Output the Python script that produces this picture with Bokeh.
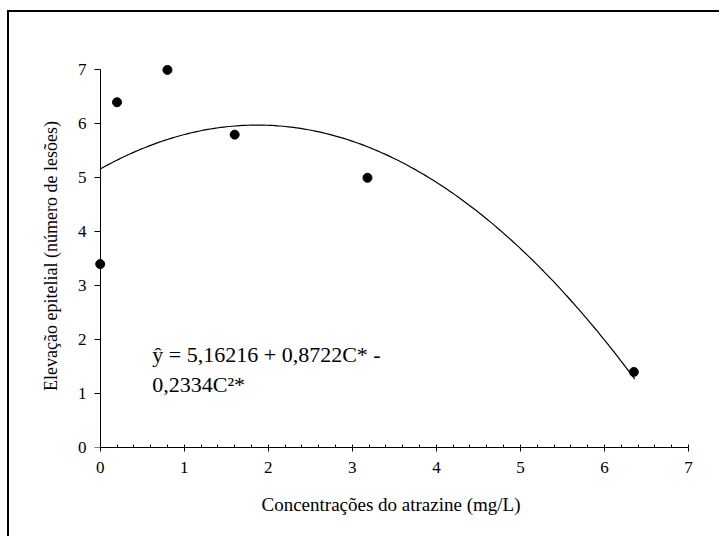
import numpy as np
from bokeh.plotting import figure
from bokeh.models import Range1d, Label, SingleIntervalTicker, FixedTicker, LinearAxis
from bokeh.embed import file_html
from bokeh.resources import INLINE

# Data
conc = [0.0, 0.2, 0.8, 1.6, 3.18, 6.35]          # atrazine concentration (mg/L)
lesoes = [3.4, 6.4, 7.0, 5.8, 5.0, 1.4]          # epithelial elevation (number of lesions)
coef = [5.16216, 0.8722, -0.2334]                # fitted quadratic: b0 + b1*C + b2*C^2
fit_range = [0.0, 6.36]
x_ticks = [0, 1, 2, 3, 4, 5, 6, 7]
y_ticks = [0, 1, 2, 3, 4, 5, 6, 7]
eq_line1 = "ŷ = 5,16216 + 0,8722C* -"
eq_line2 = "0,2334C²*"

FONT = "'Liberation Serif', 'Times New Roman', serif"

p = figure(width=712, height=526, output_backend="svg", toolbar_location=None,
           x_range=Range1d(-0.08, 7), y_range=Range1d(0, 7.1),
           min_border_left=84, min_border_right=33, min_border_top=52, min_border_bottom=91)
p.outline_line_color = None
p.grid.visible = False
p.background_fill_color = "white"
p.border_fill_color = "white"

# fitted curve
cx = np.linspace(fit_range[0], fit_range[1], 200)
cy = coef[0] + coef[1] * cx + coef[2] * cx ** 2
p.line(cx, cy, line_color="black", line_width=1.2)

# points
p.scatter(conc, lesoes, size=9, color="black")

# x axis
xa = p.xaxis[0]
xa.ticker = SingleIntervalTicker(interval=1, num_minor_ticks=5)
xa.bounds = (0, 7)
xa.axis_label = "Concentrações do atrazine (mg/L)"
xa.major_tick_in = 0
xa.major_tick_out = 4
xa.minor_tick_in = 3
xa.minor_tick_out = 0
xa.major_label_standoff = 10
xa.axis_label_standoff = 18
xa.axis_line_color = "black"
xa.major_tick_line_color = "black"
xa.minor_tick_line_color = "black"

# y axis: labels and title in the left panel
ya = p.yaxis[0]
ya.ticker = FixedTicker(ticks=y_ticks, minor_ticks=[])
ya.axis_label = "Elevação epitelial (número de lesões)"
ya.axis_line_color = None
ya.major_tick_line_color = None
ya.minor_tick_line_color = None
ya.major_tick_in = 0
ya.major_tick_out = 0
ya.major_label_standoff = 7
ya.axis_label_standoff = 14

# y axis line and ticks placed at x = 0
ya_line = LinearAxis(fixed_location=0, ticker=FixedTicker(ticks=y_ticks, minor_ticks=[]),
                     bounds=(0, 7), major_tick_in=0, major_tick_out=6,
                     axis_line_color="black", major_tick_line_color="black",
                     minor_tick_line_color=None, major_label_text_color=None)
p.add_layout(ya_line, "left")

for ax in (xa, ya):
    ax.major_label_text_font = FONT
    ax.major_label_text_font_size = "17px"
    ax.major_label_text_color = "black"
    ax.axis_label_text_font = FONT
    ax.axis_label_text_font_style = "normal"
    ax.axis_label_text_color = "black"
xa.axis_label_text_font_size = "19px"
ya.axis_label_text_font_size = "18px"

# equation
for txt, yy in ((eq_line1, 1.72), (eq_line2, 1.16)):
    p.add_layout(Label(x=0.62, y=yy, text=txt, text_font=FONT, text_font_size="22px",
                       text_color="black", text_baseline="alphabetic"))

p.styles = {"border-top": "2px solid black", "border-left": "2px solid black",
            "margin-left": "7px", "margin-top": "10px"}

open("out.html", "w").write(file_html(p, INLINE))
